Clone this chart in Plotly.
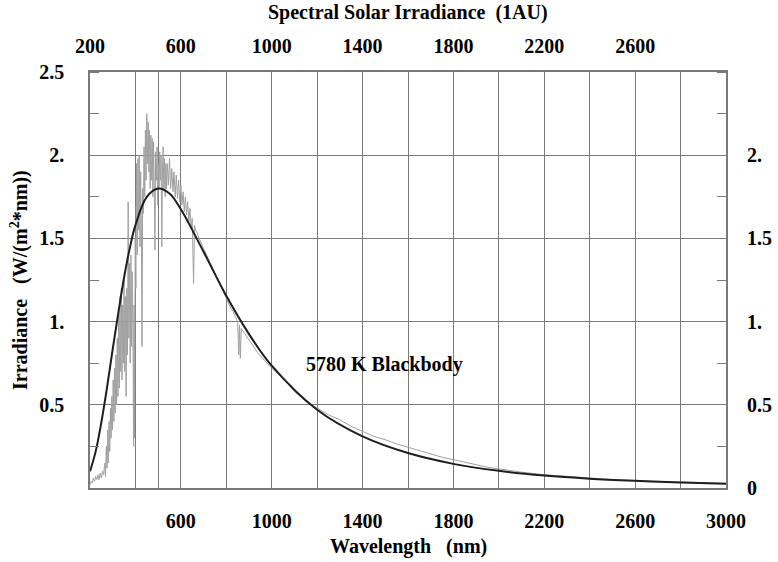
import plotly.graph_objects as go

# ---- data ----
solar_nm = [200, 205, 210, 215, 220, 225, 230, 235, 240, 245, 250, 255, 260, 265, 268, 272, 275, 278,
            281, 284, 287, 290, 293, 296, 299, 302, 305, 308, 311, 314, 317, 320, 323, 326, 329, 332,
            335, 338, 341, 344, 347, 350, 353, 356, 359, 362, 365, 368, 371, 374, 377, 380, 383, 386,
            389, 392, 394, 396, 399, 402, 405, 408, 411, 414, 417, 420, 423, 426, 429, 432, 435, 438,
            441, 444, 447, 450, 453, 456, 459, 462, 465, 468, 471, 474, 477, 480, 483, 486, 489, 492,
            495, 498, 501, 504, 507, 510, 513, 516, 519, 522, 525, 528, 531, 534, 537, 540, 545, 550,
            555, 560, 565, 570, 575, 580, 585, 590, 595, 600, 605, 610, 615, 620, 625, 630, 635, 640,
            645, 650, 656, 660, 665, 670, 680, 690, 700, 710, 720, 730, 740, 750, 760, 770, 780, 790,
            800, 810, 820, 830, 840, 850, 855, 858, 862, 866, 870, 880, 890, 900, 920, 940, 960, 980,
            1000, 1050, 1100, 1150, 1200, 1250, 1300, 1350, 1400, 1450, 1500, 1550, 1600, 1650, 1700,
            1750, 1800, 1850, 1900, 1950, 2000, 2100, 2200, 2300, 2400, 2500, 2600, 2700, 2800, 2900, 3000]
solar_irr = [0.02, 0.04, 0.03, 0.06, 0.04, 0.07, 0.05, 0.08, 0.05, 0.09, 0.06, 0.10, 0.08, 0.15, 0.07, 0.25, 0.12, 0.35,
             0.15, 0.40, 0.22, 0.48, 0.30, 0.55, 0.35, 0.65, 0.40, 0.72, 0.45, 0.80, 0.50, 0.90, 0.55, 1.05, 0.60, 1.15,
             0.70, 1.20, 0.65, 1.10, 0.75, 1.25, 0.70, 1.15, 0.55, 1.20, 0.80, 1.72, 0.90, 1.35, 0.75, 1.40, 0.85, 1.30,
             0.95, 0.25, 1.10, 0.30, 1.50, 1.20, 1.95, 1.40, 1.98, 1.55, 2.00, 1.45, 1.90, 1.60, 0.85, 1.80, 1.65, 2.05,
             1.75, 2.15, 1.85, 2.25, 1.95, 2.20, 1.90, 2.15, 1.80, 2.12, 1.85, 2.10, 1.75, 2.08, 1.80, 1.43, 2.02, 1.85,
             2.05, 1.70, 1.95, 1.80, 2.02, 1.85, 2.00, 1.45, 1.90, 2.05, 1.80, 1.98, 1.75, 1.95, 1.80, 1.95, 1.82, 1.98,
             1.80, 1.92, 1.78, 1.90, 1.75, 1.88, 1.74, 1.85, 1.72, 1.82, 1.70, 1.78, 1.66, 1.75, 1.64, 1.72, 1.60, 1.68,
             1.57, 1.62, 1.23, 1.58, 1.55, 1.54, 1.50, 1.47, 1.44, 1.41, 1.38, 1.34, 1.31, 1.28, 1.25, 1.22, 1.19, 1.16,
             1.14, 1.11, 1.08, 1.06, 1.03, 1.00, 0.80, 0.98, 0.78, 0.96, 0.95, 0.93, 0.91, 0.89, 0.85, 0.81, 0.78, 0.75,
             0.72, 0.66, 0.58, 0.52, 0.48, 0.44, 0.41, 0.37, 0.34, 0.31, 0.29, 0.265, 0.245, 0.225, 0.205,
             0.185, 0.17, 0.155, 0.14, 0.125, 0.115, 0.095, 0.08, 0.07, 0.06, 0.05, 0.045, 0.04, 0.035, 0.03, 0.028]

bb_nm = [200, 225, 250, 275, 300, 325, 350, 375, 400, 450, 500, 550, 600, 700, 800, 900, 1000,
         1200, 1400, 1600, 1800, 2000, 2200, 2400, 2600, 2800, 3000]
bb_irr = [0.10, 0.22, 0.395, 0.605, 0.835, 1.055, 1.265, 1.44, 1.58, 1.75, 1.80, 1.77, 1.675, 1.42, 1.155,
          0.925, 0.735, 0.47, 0.31, 0.21, 0.145, 0.103, 0.075, 0.056, 0.043, 0.033, 0.026]

x_extra_grid = [400, 500, 800, 1200, 1600, 2000, 2400, 2800]
x_bottom_labels = [600, 1000, 1400, 1800, 2200, 2600, 3000]
x_top_labels = [200, 600, 1000, 1400, 1800, 2200, 2600]
y_left_vals = [0.5, 1.0, 1.5, 2.0, 2.5]
y_left_text = ["0.5", "1.", "1.5", "2.", "2.5"]
y_right_vals = [0, 0.5, 1.0, 1.5, 2.0]
y_right_text = ["0", "0.5", "1.", "1.5", "2."]

title_text = "Spectral Solar Irradiance\u00a0\u00a0(1AU)"
x_title = "Wavelength\u00a0\u00a0 (nm)"
y_title = "Irradiance\u00a0\u00a0 (W/(m<sup>2</sup>*nm))"
bb_label = "5780 K Blackbody"
bb_label_pos = (1497, 0.74)

FONT = "Liberation Serif"
GRID = "#7a7a7a"
FS = 20

fig = go.Figure()
fig.add_trace(go.Scatter(x=solar_nm, y=solar_irr, mode="lines",
                         line=dict(color="#a0a0a0", width=1), showlegend=False))
fig.add_trace(go.Scatter(x=bb_nm, y=bb_irr, mode="lines", line_shape="spline",
                         line=dict(color="#1e1e1e", width=2), showlegend=False))

tickfont = dict(family=FONT, size=FS, color="black")

fig.update_layout(
    width=778, height=562,
    margin=dict(l=90, r=52, t=72, b=74, autoexpand=False),
    paper_bgcolor="white", plot_bgcolor="white",
    font=dict(family=FONT, size=FS, color="black"),
    xaxis=dict(range=[200, 3000], tickmode="array", tickvals=x_bottom_labels,
               ticktext=[f"<b>{v}</b>" for v in x_bottom_labels],
               showgrid=True, gridcolor=GRID, gridwidth=1.3, zeroline=False, automargin=False,
               showline=True, mirror=True, linecolor=GRID, linewidth=1.5,
               ticks="", tickfont=tickfont, ticklabelstandoff=14,
               minor=dict(tickmode="array", tickvals=x_extra_grid, showgrid=True,
                          gridcolor=GRID, gridwidth=1.3, ticks="")),
    xaxis2=dict(range=[200, 3000], overlaying="x", side="top", tickmode="array",
                tickvals=x_top_labels, ticktext=[f"<b>{v}</b>" for v in x_top_labels], automargin=False,
                showgrid=False, zeroline=False, ticks="", tickfont=tickfont, ticklabelstandoff=14),
    yaxis=dict(range=[0, 2.5], tickmode="array", tickvals=y_left_vals,
               ticktext=[f"<b>{t}</b>" for t in y_left_text], automargin=False,
               showgrid=True, gridcolor=GRID, gridwidth=1.3, zeroline=False,
               showline=True, mirror=True, linecolor=GRID, linewidth=1.5,
               ticks="", tickfont=tickfont, ticklabelstandoff=20,
               minor=dict(ticks="inside", ticklen=9, tickcolor=GRID, tickwidth=1.3,
                          tick0=0, dtick=0.25, showgrid=False)),
    yaxis2=dict(range=[0, 2.5], overlaying="y", side="right", tickmode="array",
                tickvals=y_right_vals, ticktext=[f"<b>{t}</b>" for t in y_right_text], automargin=False,
                showgrid=False, zeroline=False, ticks="", tickfont=tickfont, ticklabelstandoff=20,
                minor=dict(ticks="inside", ticklen=9, tickcolor=GRID, tickwidth=1.3,
                           tick0=0, dtick=0.25, showgrid=False)),
    annotations=[
        dict(text=f"<b>{title_text}</b>", xref="paper", yref="paper", x=0.5, y=1 + 59 / 416,
             showarrow=False, xanchor="center", yanchor="middle", font=dict(size=FS)),
        dict(text=f"<b>{x_title}</b>", xref="paper", yref="paper", x=0.5, y=-58 / 416,
             showarrow=False, xanchor="center", yanchor="middle", font=dict(size=FS)),
        dict(text=f"<b>{y_title}</b>", xref="paper", yref="paper", x=-71 / 636, y=0.5,
             showarrow=False, xanchor="center", yanchor="middle", textangle=-90, font=dict(size=FS)),
        dict(text=f"<b>{bb_label}</b>", xref="x", yref="y", x=bb_label_pos[0], y=bb_label_pos[1],
             showarrow=False, xanchor="center", yanchor="middle", font=dict(size=FS)),
    ],
)
# invisible trace so the overlay axes render
fig.add_trace(go.Scatter(x=[200], y=[0], xaxis="x2", yaxis="y2", mode="markers",
                         marker=dict(opacity=0), showlegend=False, hoverinfo="skip"))

# remove the default page margin so the figure sits at the window's top-left corner
fig.write_html("out.html", config={"displayModeBar": False},
               post_script="document.body.style.margin='0px';")
